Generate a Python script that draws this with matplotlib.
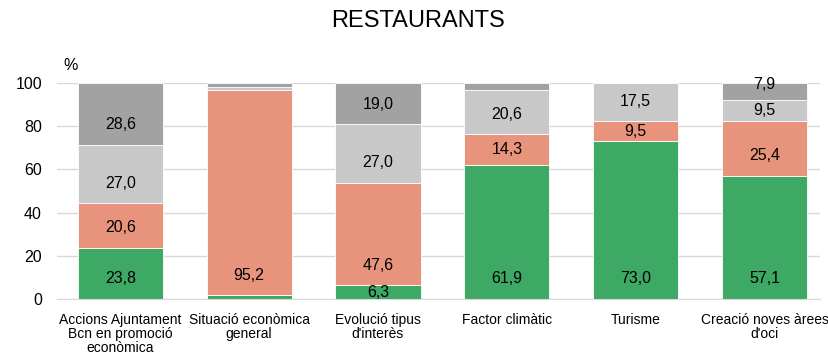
import numpy as np
import matplotlib
matplotlib.use('Agg')
import matplotlib.pyplot as plt

plt.rcParams['font.family'] = ['Liberation Sans', 'DejaVu Sans']

# Categories and series (percent)
categories = ['Accions Ajuntament\nBcn en promoció\neconòmica',
              'Situació econòmica\ngeneral',
              'Evolució tipus\nd\'interès',
              'Factor climàtic',
              'Turisme',
              'Creació noves àrees\nd\'oci']
green = [23.8, 1.6, 6.3, 61.9, 73.0, 57.1]
salmon = [20.6, 95.2, 47.6, 14.3, 9.5, 25.4]
light = [27.0, 1.6, 27.0, 20.6, 17.5, 9.5]
dark = [28.6, 1.6, 19.0, 3.2, 0.0, 7.9]

series = [green, salmon, light, dark]
colors = ['#3EA865', '#E8937B', '#C8C8C8', '#A2A2A2']

fig = plt.figure(figsize=(8.29, 3.55), dpi=100)
ax = fig.add_axes([0.069, 0.158, 0.92, 0.608])

x = np.arange(len(categories))
bottom = np.zeros(len(categories))
for vals, col in zip(series, colors):
    vals = np.array(vals)
    ax.bar(x, vals, 0.66, bottom=bottom, color=col, edgecolor='white',
           linewidth=0.6, zorder=2)
    for xi, b, v in zip(x, bottom, vals):
        if v < 5:
            continue
        # labels sit near the base of each segment (Excel "inside base")
        y = b + min(9.3, v / 2)
        if b + v > 99.5 and v < 9:
            y = 99.2
        ax.text(xi, y, f'{v:.1f}'.replace('.', ','), ha='center',
                va='center', fontsize=11.5, color='black', zorder=3)
    bottom += vals

ax.set_ylim(0, 100)
ax.set_xlim(-0.49, 5.43)
ax.set_yticks([0, 20, 40, 60, 80, 100])
ax.yaxis.grid(True, color='#D9D9D9', linewidth=1, zorder=0)
ax.set_axisbelow(True)
for s in ['top', 'right', 'left']:
    ax.spines[s].set_visible(False)
ax.spines['bottom'].set_color('#D9D9D9')
ax.tick_params(axis='both', length=0)
ax.tick_params(axis='y', labelsize=11.5, pad=11)
ax.set_xticks(x)
ax.set_xticklabels(categories, fontsize=10, linespacing=1.0)
ax.tick_params(axis='x', pad=10)

fig.text(0.085, 0.815, '%', fontsize=11.5, ha='center', va='center')
fig.text(0.504, 0.94, 'RESTAURANTS', fontsize=17, ha='center', va='center')

fig.savefig('out.png', dpi=100)
